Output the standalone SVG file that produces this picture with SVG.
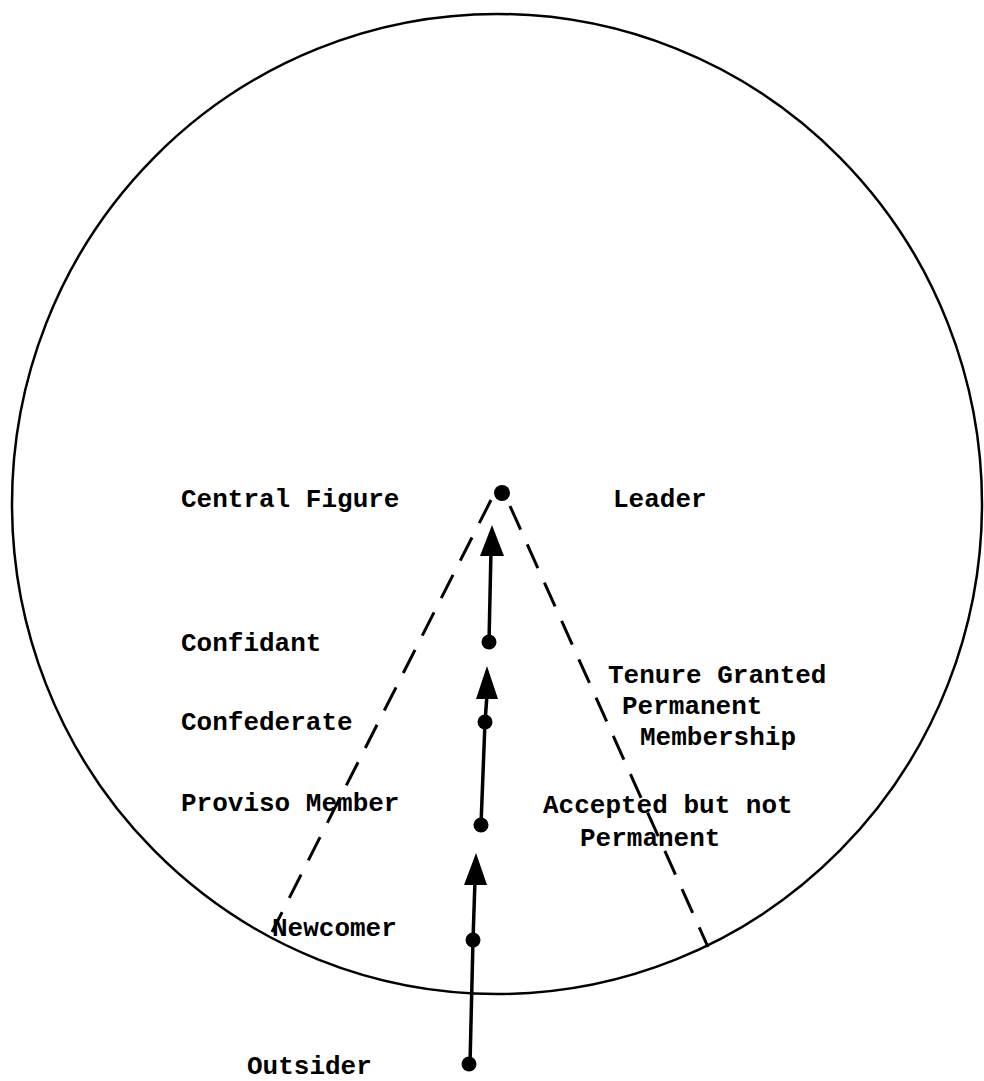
<svg xmlns="http://www.w3.org/2000/svg" width="984" height="1081" viewBox="0 0 984 1081">
<style>
text{font-family:"Liberation Mono","Courier New",monospace;font-size:26px;font-weight:bold;fill:#000}
.dash{fill:none;stroke:#000;stroke-width:3;stroke-dasharray:26 16}
.ln{fill:none;stroke:#000;stroke-width:3.5}
.dot{fill:#000}
</style>
<rect width="984" height="1081" fill="#fff"/>
<g id="boundary"><ellipse cx="497" cy="504" rx="485" ry="490" fill="none" stroke="#000" stroke-width="2.5"/></g>
<g id="connectors">
<line class="dash" x1="491" y1="500" x2="272" y2="932"/>
<line class="dash" x1="510" y1="506" x2="708" y2="947"/>
<line class="ln" x1="489" y1="642" x2="491" y2="550"/>
<polygon points="492,525 480,556 504,556"/>
<line class="ln" x1="485" y1="722" x2="487" y2="695"/>
<polygon points="487,666 476,699 498,699"/>
<line class="ln" x1="485" y1="722" x2="481" y2="825"/>
<line class="ln" x1="473" y1="940" x2="475" y2="880"/>
<polygon points="476,853 464,885 487,885"/>
<line class="ln" x1="473" y1="940" x2="470" y2="1064"/>
</g>
<g id="central-figure"><circle class="dot" cx="502" cy="493" r="8"/><text x="181" y="507">Central Figure</text><text x="613" y="507">Leader</text></g>
<g id="confidant"><circle class="dot" cx="489" cy="642" r="7.5"/><text x="181" y="651">Confidant</text></g>
<g id="confederate"><circle class="dot" cx="485" cy="722" r="7.5"/><text x="181" y="730">Confederate</text></g>
<g id="tenure"><text x="608" y="683">Tenure Granted</text><text x="622" y="714">Permanent</text><text x="640" y="745">Membership</text></g>
<g id="proviso"><circle class="dot" cx="481" cy="825" r="7.5"/><text x="181" y="811">Proviso Member</text></g>
<g id="accepted"><text x="543" y="813">Accepted but not</text><text x="580" y="846">Permanent</text></g>
<g id="newcomer"><circle class="dot" cx="473" cy="940" r="7.5"/><text x="272" y="936">Newcomer</text></g>
<g id="outsider"><circle class="dot" cx="469" cy="1064" r="7.5"/><text x="247" y="1074">Outsider</text></g>
</svg>
